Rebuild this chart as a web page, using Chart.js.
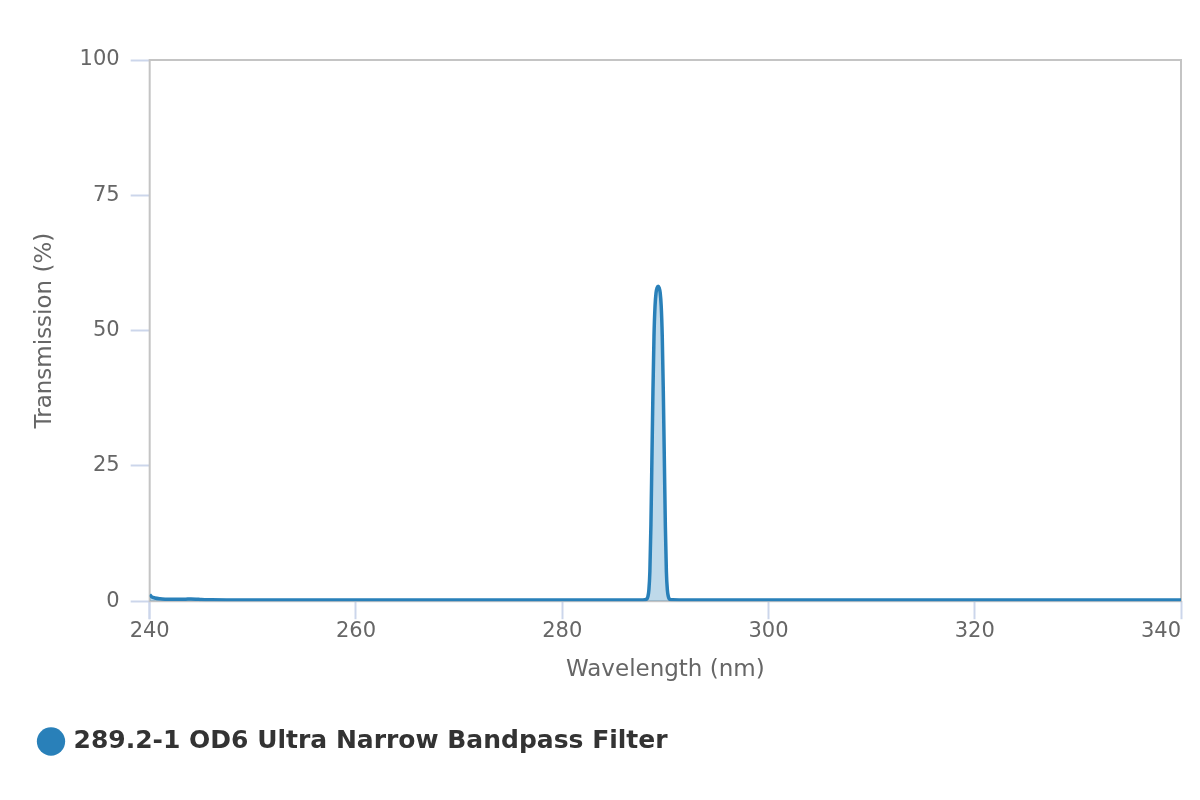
<!DOCTYPE html>
<html>
<head>
<meta charset="utf-8">
<script src="https://cdn.jsdelivr.net/npm/chart.js@4.4.1/dist/chart.umd.min.js"></script>
<style>
  html, body { margin: 0; padding: 0; background: #fff; }
  #wrap { width: 1200px; height: 800px; position: relative; }
</style>
</head>
<body>
<div id="wrap"><canvas id="filterChart"></canvas></div>
<script>
// wavelength (nm) and transmission (%)
const wavelengths = [
  240.0, 240.2, 240.5, 241.0, 241.5, 242.0, 243.0, 243.5, 244.0, 244.5, 245.0, 246.0, 248.0,
  250, 255, 260, 265, 270, 275, 280, 283, 285, 286, 287, 287.8,
  288.2, 288.3, 288.4, 288.5, 288.6, 288.7, 288.8, 288.9, 289.0, 289.1, 289.2,
  289.3, 289.4, 289.5, 289.6, 289.7, 289.8, 289.9, 290.0, 290.1, 290.2, 290.3, 290.4,
  290.7, 291.5, 293, 295, 300, 305, 310, 315, 320, 325, 330, 335, 340
];
const transmission = [
  1.2, 0.8, 0.6, 0.45, 0.38, 0.35, 0.35, 0.38, 0.42, 0.38, 0.3, 0.25, 0.22,
  0.2, 0.2, 0.2, 0.2, 0.2, 0.2, 0.2, 0.2, 0.2, 0.2, 0.2, 0.22,
  0.4, 0.8, 2.0, 5.5, 14.0, 26.5, 39.0, 49.0, 54.5, 57.0, 57.9,
  58.2, 57.9, 57.0, 54.5, 49.0, 39.0, 26.5, 14.0, 5.5, 2.0, 0.8, 0.4,
  0.25, 0.22, 0.2, 0.2, 0.2, 0.2, 0.2, 0.2, 0.2, 0.2, 0.2, 0.2, 0.2
];
const yTicks = [0, 25, 50, 75, 100];
const xTicks = [240, 260, 280, 300, 320, 340];
const seriesName = '289.2-1 OD6 Ultra Narrow Bandpass Filter';
const lineColor = '#2980b9';

const points = wavelengths.map((w, i) => ({ x: w, y: transmission[i] }));

// grey frame round the plot area, drawn under the curve
const plotBorder = {
  id: 'plotBorder',
  beforeDatasetsDraw(chart) {
    const { ctx, chartArea: a } = chart;
    ctx.save();
    ctx.strokeStyle = '#c4c4c4';
    ctx.lineWidth = 2;
    ctx.strokeRect(a.left, a.top, a.right - a.left, a.bottom - a.top);
    ctx.restore();
  }
};

const ctx = document.getElementById('filterChart').getContext('2d');
new Chart(ctx, {
  type: 'line',
  data: {
    datasets: [{
      label: seriesName,
      data: points,
      borderColor: lineColor,
      backgroundColor: 'rgba(41, 128, 185, 0.3)',
      borderWidth: 3.5,
      fill: 'origin',
      pointRadius: 0,
      pointHoverRadius: 0,
      cubicInterpolationMode: 'monotone',
      pointStyle: 'circle'
    }]
  },
  options: {
    responsive: true,
    maintainAspectRatio: false,
    animation: false,
    layout: { padding: { left: 31, right: 19, top: 60, bottom: 36 } },
    plugins: {
      tooltip: { enabled: false },
      legend: {
        position: 'bottom',
        align: 'start',
        labels: {
          usePointStyle: true,
          boxWidth: 20,
          boxHeight: 20,
          padding: 10,
          color: '#333333',
          font: { family: 'DejaVu Sans', size: 25, weight: 'bold' },
          generateLabels(chart) {
            return Chart.defaults.plugins.legend.labels.generateLabels(chart).map(l => {
              l.fillStyle = lineColor;
              l.strokeStyle = lineColor;
              l.lineWidth = 0;
              return l;
            });
          }
        }
      }
    },
    scales: {
      x: {
        type: 'linear',
        min: 240,
        max: 340,
        // a blank first tick lets 'inner' keep the 240 label centred while the 340 label sits inside
        afterBuildTicks: (scale) => { scale.ticks = [240].concat(xTicks).map(v => ({ value: v })); },
        border: { display: false },
        grid: { drawOnChartArea: false, tickLength: 18, tickColor: '#ccd6eb', tickWidth: 2 },
        ticks: {
          color: '#666666',
          padding: 0,
          align: 'inner',
          maxRotation: 0,
          autoSkip: false,
          font: { family: 'DejaVu Sans', size: 21 },
          callback: (value, index) => index === 0 ? '' : value
        },
        title: {
          display: true,
          text: 'Wavelength (nm)',
          color: '#666666',
          font: { family: 'DejaVu Sans', size: 23 },
          padding: { top: 12, bottom: 35 }
        }
      },
      y: {
        min: 0,
        max: 100,
        afterBuildTicks: (scale) => { scale.ticks = yTicks.map(v => ({ value: v })); },
        border: { display: false },
        grid: { drawOnChartArea: false, tickLength: 19, tickColor: '#ccd6eb', tickWidth: 2 },
        ticks: { color: '#666666', padding: 11, font: { family: 'DejaVu Sans', size: 21 } },
        title: {
          display: true,
          text: 'Transmission (%)',
          color: '#666666',
          font: { family: 'DejaVu Sans', size: 23 },
          padding: { top: 0, bottom: 10 }
        }
      }
    }
  },
  plugins: [plotBorder]
});
</script>
</body>
</html>
